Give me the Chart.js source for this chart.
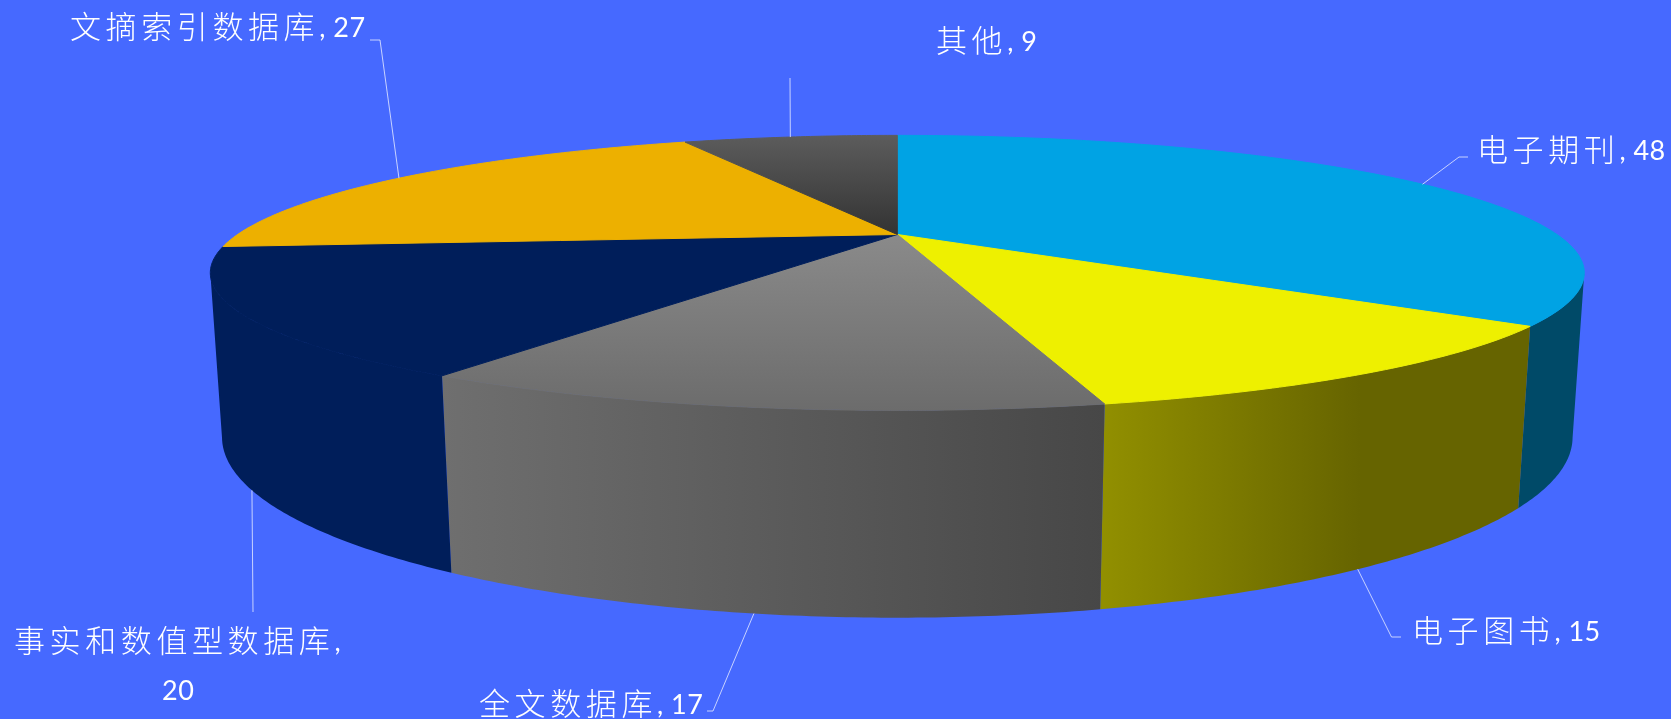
<!DOCTYPE html>
<html>
<head>
<meta charset="utf-8">
<style>
html, body { margin: 0; padding: 0; background: #4669ff; overflow: hidden; }
#box { width: 1671px; height: 719px; }
</style>
<script src="https://cdn.jsdelivr.net/npm/chart.js@4"></script>
</head>
<body>
<div id="box"><canvas id="myChart"></canvas></div>
<script>
const categories = ['电子期刊', '电子图书', '全文数据库', '事实和数值型数据库', '文摘索引数据库', '其他'];
const values = [48, 15, 17, 20, 27, 9];

// top face colours (two stops, vertical)
const topFrom = ['#00a3e4', '#eef000', '#8a8a8a', '#001e5a', '#edb000', '#5c5c5c'];
const topTo = ['#00a3e4', '#eef000', '#6c6c6c', '#001e5a', '#edb000', '#333333'];
// side wall colours (two stops, horizontal), wallFlat = where the second stop is reached
const wallFrom = ['#004a68', '#918f00', '#6f6f6f', '#001e5a', '#7a5c00', '#333333'];
const wallTo = ['#004a68', '#666400', '#474747', '#001e5a', '#7a5c00', '#333333'];
const wallFlat = [1, 0.6, 1, 1, 1, 1];

// label layout: text start, elbow of the leader line, its end
const labelX = [1477, 1412, 479, 14, 70, 936];
const labelY = [149, 630, 703, 640, 26, 40];
const elbowX = [1459, 1391.5, 713, 253, 380, 790];
const elbowY = [157, 637, 711, 612, 40, 78];
const endX = [1468, 1401, 707, 253, 370, 790];
const endY = [157, 637, 711, 612, 40, 78];
// which rim the leader starts from: 0 top rim, 1 bottom rim
const rim = [0, 1, 1, 1, 0, 0];

// perspective of the disc
const view = { cx: 897.3, cy: 234.5, a: 659.7, b: 126.8, p: 0.279, drop: 155.6, q: 0.016 };

function project(theta, bottom) {
	const u = Math.cos(theta), v = Math.sin(theta);
	const w = 1 - view.p * v + (bottom ? view.q : 0);
	return {
		x: view.cx + view.a * u / w,
		y: view.cy + (view.b * v + (bottom ? view.drop : 0)) / w
	};
}

function drawWall(ctx, arc, i) {
	// the rim is visible between the two points where it turns away
	const turn = Math.asin(view.p);
	const start = Math.max(arc.startAngle, turn);
	const end = Math.min(arc.endAngle, Math.PI - turn);
	if (end <= start) return;
	const steps = Math.ceil((end - start) / 0.01);
	const topPts = [], botPts = [];
	for (let s = 0; s <= steps; s++) {
		const t = start + (end - start) * s / steps;
		topPts.push(project(t, false));
		botPts.push(project(t, true));
	}
	const x1 = project(arc.startAngle, false).x, x2 = project(arc.endAngle, false).x;
	const grad = ctx.createLinearGradient(Math.min(x1, x2), 0, Math.max(x1, x2), 0);
	grad.addColorStop(0, wallFrom[i]);
	grad.addColorStop(wallFlat[i], wallTo[i]);
	ctx.fillStyle = grad;
	ctx.beginPath();
	topPts.forEach((p, n) => n ? ctx.lineTo(p.x, p.y) : ctx.moveTo(p.x, p.y));
	botPts.reverse().forEach(p => ctx.lineTo(p.x, p.y));
	ctx.closePath();
	ctx.fill();
}

function drawTop(ctx, arc, i) {
	const steps = Math.ceil((arc.endAngle - arc.startAngle) / 0.01);
	const ys = [view.cy];
	ctx.beginPath();
	ctx.moveTo(view.cx, view.cy);
	for (let s = 0; s <= steps; s++) {
		const p = project(arc.startAngle + (arc.endAngle - arc.startAngle) * s / steps, false);
		ctx.lineTo(p.x, p.y);
		ys.push(p.y);
	}
	ctx.closePath();
	const grad = ctx.createLinearGradient(0, Math.min(...ys), 0, Math.max(...ys));
	grad.addColorStop(0, topFrom[i]);
	grad.addColorStop(1, topTo[i]);
	ctx.fillStyle = grad;
	ctx.fill();
	// same colour stroke closes the hairline seam to the wall below
	ctx.strokeStyle = grad;
	ctx.lineWidth = 1;
	ctx.lineJoin = 'round';
	ctx.stroke();
}

function drawLabels(ctx, arcs) {
	ctx.save();
	ctx.fillStyle = '#ffffff';
	ctx.textBaseline = 'middle';
	ctx.textAlign = 'left';
	arcs.forEach((arc, i) => {
		const start = project((arc.startAngle + arc.endAngle) / 2, rim[i] === 1);
		ctx.strokeStyle = 'rgba(255,255,255,0.7)';
		ctx.lineWidth = 1;
		ctx.beginPath();
		ctx.moveTo(start.x, start.y);
		ctx.lineTo(elbowX[i], elbowY[i]);
		ctx.lineTo(endX[i], endY[i]);
		ctx.stroke();

		ctx.font = '300 31px "Noto Sans CJK SC", sans-serif';
		ctx.letterSpacing = '4.6px';
		ctx.fillText(categories[i], labelX[i], labelY[i]);
		const after = labelX[i] + ctx.measureText(categories[i]).width;

		ctx.font = '27px Lato, sans-serif';
		ctx.letterSpacing = '0.5px';
		if (i === 3) {
			// this one wraps, its number sits on a line of its own
			ctx.fillText(',', after, labelY[i] + 2);
			ctx.fillText(String(values[i]), 162, 691);
		} else {
			ctx.fillText(', ' + values[i], after, labelY[i] + 2);
		}
	});
	ctx.restore();
}

const pie3d = {
	id: 'pie3d',
	beforeDatasetDraw(chart) {
		const ctx = chart.ctx;
		const arcs = chart.getDatasetMeta(0).data;
		ctx.save();
		arcs.forEach((a, i) => drawWall(ctx, a, i));
		arcs.forEach((a, i) => drawTop(ctx, a, i));
		ctx.restore();
		drawLabels(ctx, arcs);
		return false;
	}
};

function createChart() {
	new Chart(document.getElementById('myChart'), {
		type: 'pie',
		data: {
			labels: categories,
			datasets: [{ data: values, backgroundColor: topFrom, borderWidth: 0 }]
		},
		options: {
			responsive: true,
			maintainAspectRatio: false,
			animation: false,
			plugins: { legend: { display: false }, tooltip: { enabled: false } }
		},
		plugins: [pie3d]
	});
}

document.addEventListener('DOMContentLoaded', createChart);
</script>
</body>
</html>
